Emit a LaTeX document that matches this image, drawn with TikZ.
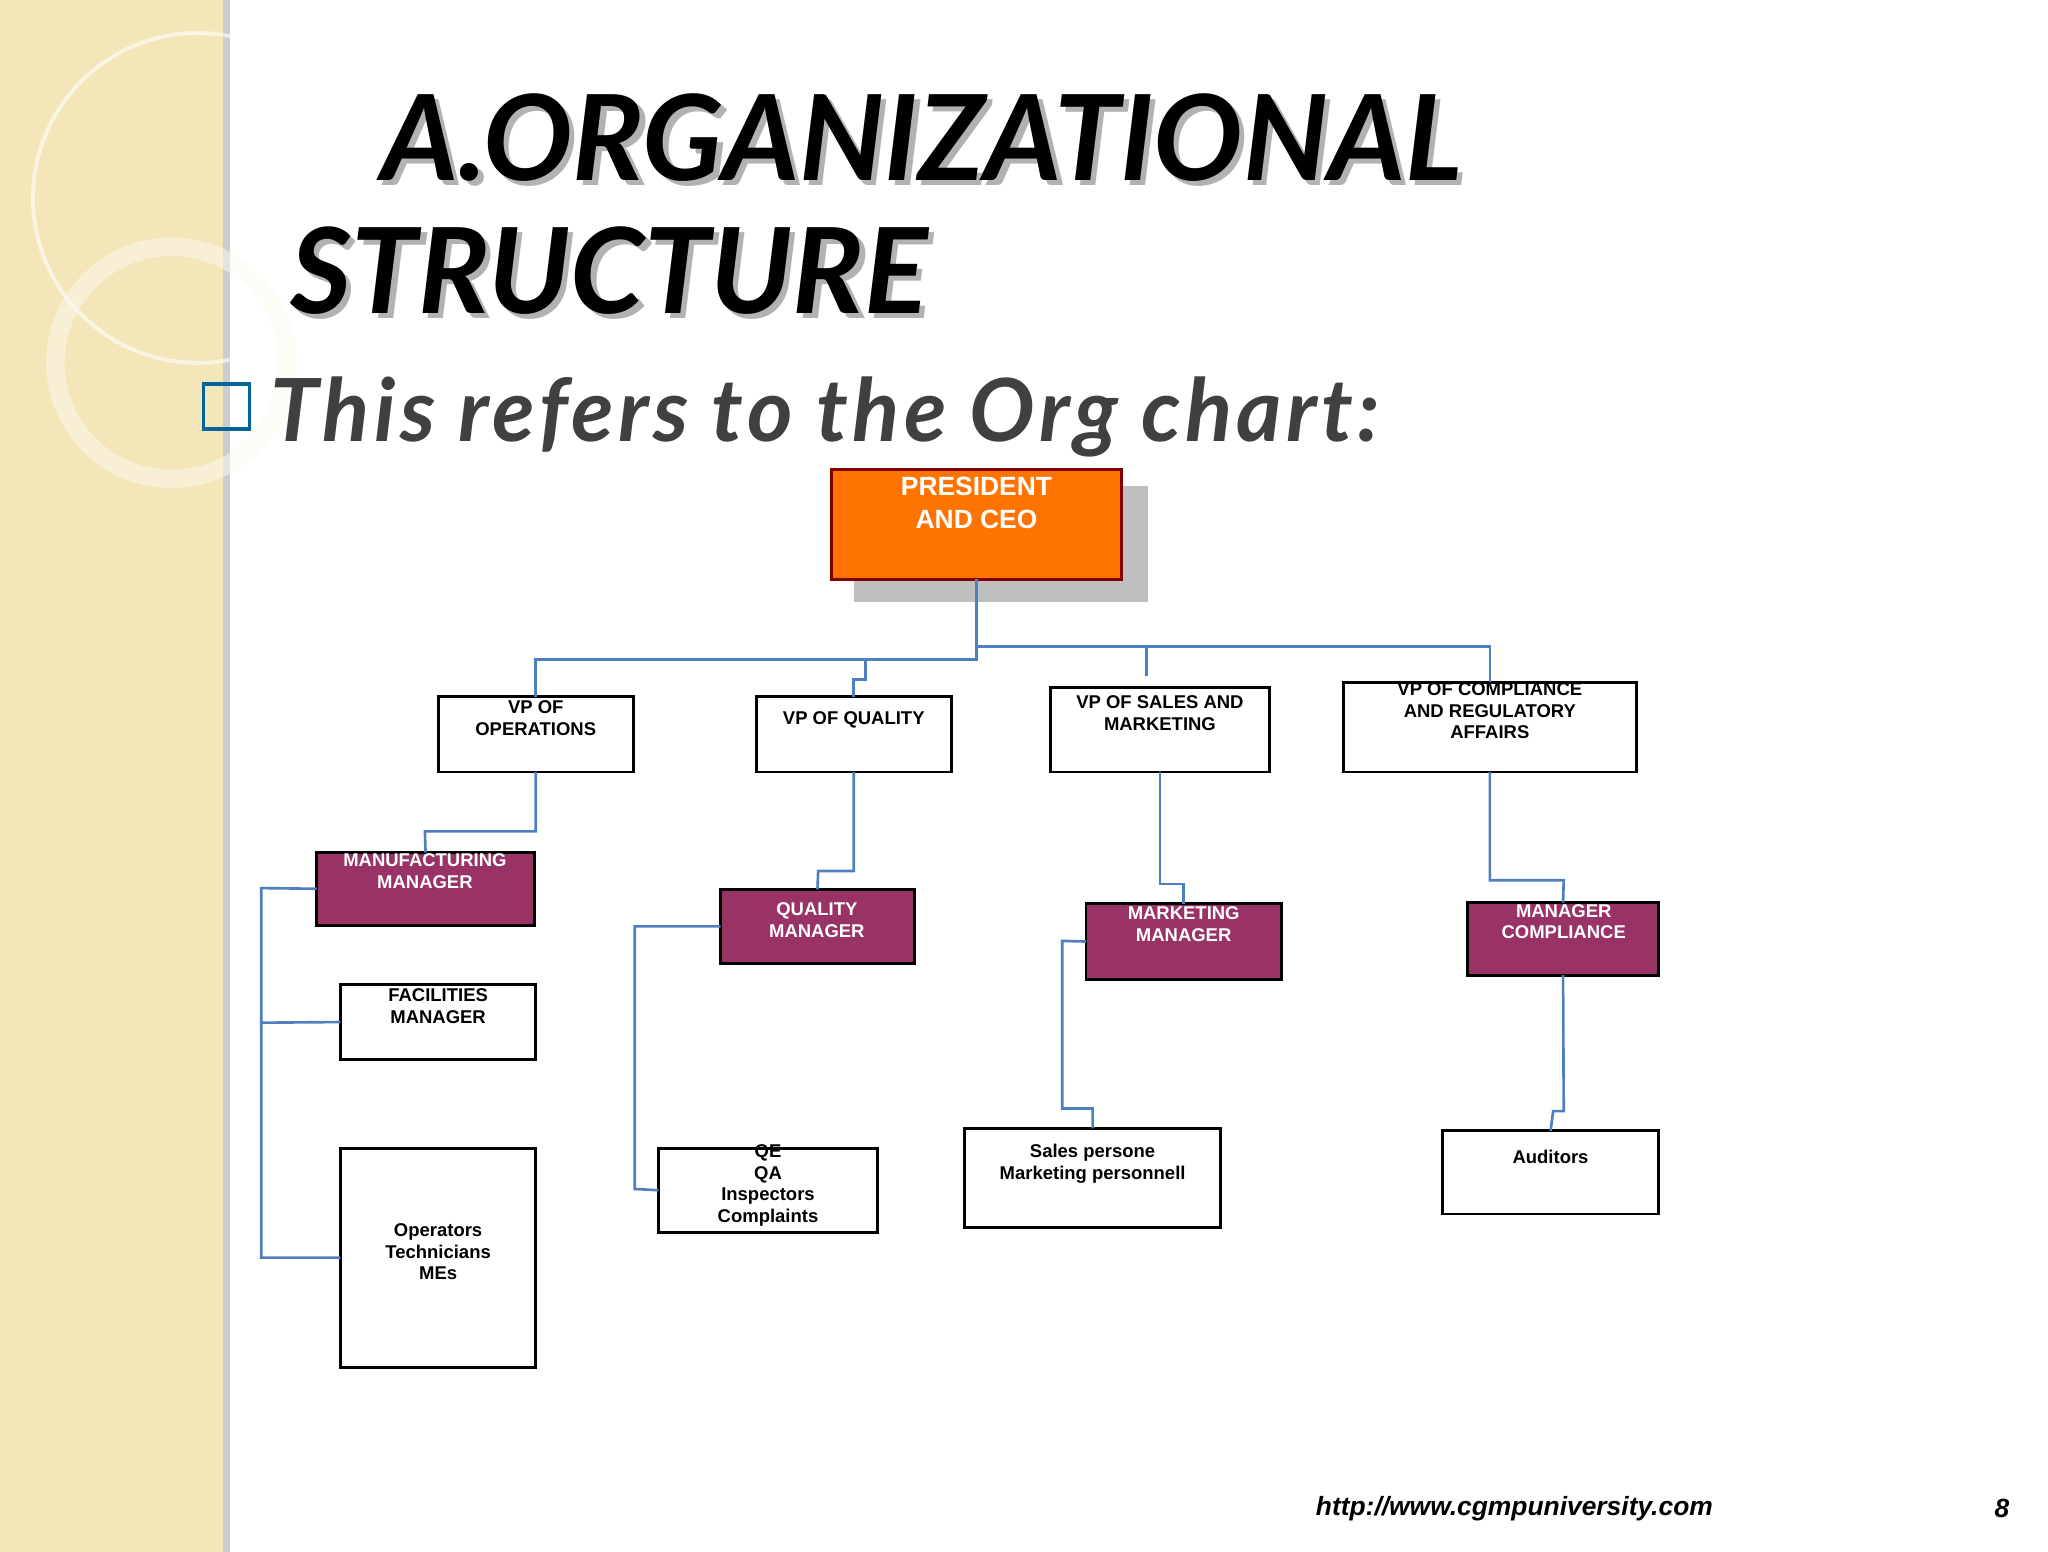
\documentclass[tikz,border=0pt]{standalone}
\usepackage{fontspec}
\setmainfont{Liberation Sans}
\newfontfamily\titlefont{Lato}
\newfontfamily\subfont[LetterSpace=5]{Lato}
\begin{document}
\begin{tikzpicture}[x=1pt,y=-1pt,
  box/.style={draw=black,line width=2.2pt,fill=white,align=center,inner sep=0pt,outer sep=0pt},
  pbox/.style={box,fill=purpleM},
  conn/.style={draw=blueL,line width=2pt}]
\definecolor{purpleM}{HTML}{993366}
\definecolor{blueL}{HTML}{4F7FBF}
\definecolor{beige}{HTML}{F3E6B8}
\useasboundingbox (0,0) rectangle (1552,1176);
\fill[white] (0,0) rectangle (1552,1176);
\fill[beige] (0,0) rectangle (172,1176);
\fill[black!20] (169,0) rectangle (174,1176);
\draw[white,line width=3pt,opacity=.6] (150,150) circle (125);
\draw[white!80!beige,line width=14pt,opacity=.5] (130,275) circle (88);
% title
\tikzset{tt/.style={font=\titlefont\bfseries\itshape\fontsize{90}{100}\selectfont,anchor=west,inner sep=0pt}}
\node[tt,text=gray!60] at (293,108) {A.ORGANIZATIONAL};
\node[tt] (t1) at (289,104) {A.ORGANIZATIONAL};
\node[tt,text=gray!60] at (224,209) {STRUCTURE};
\node[tt] (t2) at (220,205) {STRUCTURE};
\draw[draw=teal!80!blue,line width=2.5pt] (154,291) rectangle (189,325);
\node[text=black!75,font=\subfont\bfseries\itshape\fontsize{66}{70}\selectfont,anchor=west,inner sep=0pt] (sub) at (205,316) {This refers to the Org chart:};
% president
\fill[black!25] (647,368) rectangle (870,456);
\node[draw=red!50!black,line width=2pt,fill=orange!90!red,minimum width=220pt,minimum height=83pt,anchor=north west,outer sep=0pt] (pres) at (630,356) {};
\node[text=white,font=\bfseries\fontsize{20}{25}\selectfont,align=center,anchor=north] at (740,358) {PRESIDENT\\AND CEO};
% boxes
\newcommand\bx[6]{\node[#1,anchor=north west,minimum width=#4-#2-2,minimum height=#5-#3-2] (#6) at (#2+1,#3+1) {};}
\bx{box}{331}{527}{481}{586}{vpo}
\bx{box}{572}{527}{722}{586}{vpq}
\bx{box}{795}{520}{963}{586}{vps}
\bx{box}{1017}{516}{1241}{586}{vpc}
\bx{pbox}{239}{645}{406}{702}{mfg}
\bx{box}{257}{745}{407}{804}{fac}
\bx{box}{257}{869}{407}{1037}{opr}
\bx{pbox}{545}{673}{694}{731}{qm}
\bx{box}{498}{869}{666}{935}{qe}
\bx{pbox}{822}{684}{972}{743}{mm}
\bx{box}{730}{854}{926}{931}{sp}
\bx{pbox}{1111}{683}{1258}{740}{mc}
\bx{box}{1092}{856}{1258}{921}{aud}
\tikzset{lbl/.style={align=center,anchor=north,font=\bfseries\fontsize{14}{16.5}\selectfont,inner sep=0pt}}
\node[lbl] at (406,531) {VP OF\\OPERATIONS};
\node[lbl] at (647,539) {VP OF QUALITY};
\node[lbl] at (879,527) {VP OF SALES AND\\MARKETING};
\node[lbl] at (1129,517) {VP OF COMPLIANCE\\AND REGULATORY\\AFFAIRS};
\node[lbl,text=white] at (322,647) {MANUFACTURING\\MANAGER};
\node[lbl] at (332,749) {FACILITIES\\MANAGER};
\node[lbl] at (332,927) {Operators\\Technicians\\MEs};
\node[lbl,text=white] at (619,684) {QUALITY\\MANAGER};
\node[lbl] at (582,867) {QE\\QA\\Inspectors\\Complaints};
\node[lbl,text=white] at (897,687) {MARKETING\\MANAGER};
\node[lbl] at (828,867) {Sales persone\\Marketing personnell};
\node[lbl,text=white] at (1185,685) {MANAGER\\COMPLIANCE};
\node[lbl] at (1175,871) {Auditors};
% connectors
\draw[conn] (pres.south) -- (740,500) -- (406,500) -- (vpo.north);
\draw[conn] (740,490) -- (1129,490) -- (vpc.north);
\draw[conn] (656,500) -- (656,515) -- (647,515) -- (vpq.north);
\draw[conn] (869,490) -- (869,512);
\draw[conn] (vpo.south) -- (406,630) -- (322,630) -- (mfg.north);
\draw[conn] (vpq.south) -- (647,660) -- (620,660) -- (qm.north);
\draw[conn] (vps.south) -- (879,670) -- (897,670) -- (mm.north);
\draw[conn] (vpc.south) -- (1129,667) -- (1185,667) -- (mc.north);
\draw[conn] (mfg.west) -- (198,673) -- (198,953) -- (opr.west);
\draw[conn] (198,775) -- (fac.west);
\draw[conn] (qm.west) -- (481,702) -- (481,901) -- (qe.west);
\draw[conn] (mm.west) -- (805,713) -- (805,840) -- (828,840) -- (sp.north);
\draw[conn] (mc.south) -- (1185,842) -- (1177,842) -- (aud.north);
% footer
\node[font=\bfseries\itshape\fontsize{20}{22}\selectfont,anchor=west,inner sep=0pt] (url) at (997,1143) {http://www.cgmpuniversity.com};
\node[font=\bfseries\itshape\fontsize{20}{22}\selectfont] (pg) at (1517,1143) {8};
\end{tikzpicture}
\end{document}
